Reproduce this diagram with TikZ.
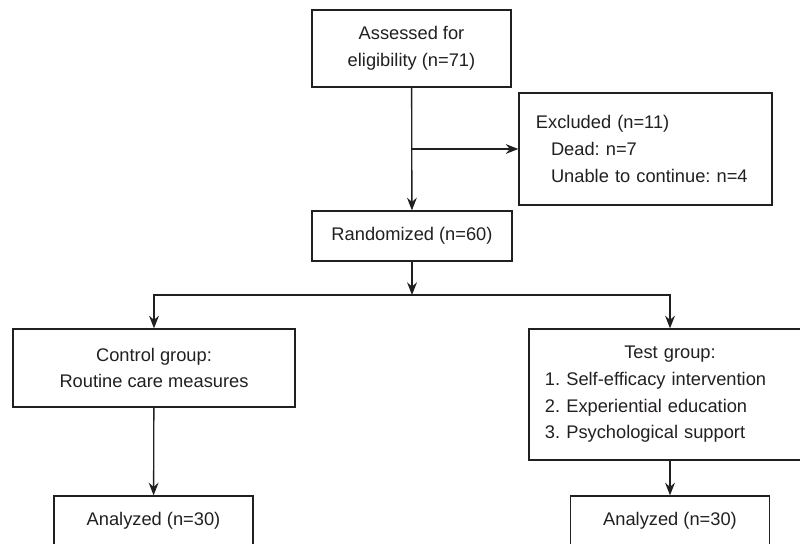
\documentclass[tikz,border=0pt]{standalone}
\usepackage{fontspec}
\setmainfont{Liberation Sans}
\usetikzlibrary{arrows.meta}
\definecolor{ink}{HTML}{231F20}

\begin{document}
\frenchspacing
\begin{tikzpicture}[x=0.025cm, y=-0.025cm]
            \tikzset{box/.style = {shape=rectangle, draw=ink, line width=0.9pt, text=ink, align=center, inner sep=0pt, font=\fontsize{13}{19}\selectfont}}
            \tikzset{flow/.style = {draw=ink, line width=0.95pt, -{Stealth[length=9pt, width=7pt, inset=3pt]}}}
            \useasboundingbox (0,0) rectangle (800,544);
            \clip (0,0) rectangle (800,544);

            % boxes
            \node[box, minimum width=4.975cm, minimum height=1.925cm] (assess) at (411.5,48.5) {Assessed for\\eligibility (n=71)};
            \node[box, align=left, text width=5.475cm, inner xsep=0.425cm, minimum height=2.8cm] (excl) at (645.5,149) {Excluded (n=11)\\\hspace*{10.7pt}Dead: n=7\\\hspace*{10.7pt}Unable to continue: n=4};
            \node[box, minimum width=5cm, minimum height=1.25cm] (rand) at (412,236) {Randomized (n=60)};
            \node[box, minimum width=7.05cm, minimum height=1.95cm] (ctrl) at (154,368) {Control group:\\Routine care measures};
            \node[box, align=left, text width=6.25cm, inner xsep=0.4cm, minimum height=3.275cm] (test) at (670,394.5) {\makebox[\hsize]{Test group:}\\1. Self-efficacy intervention\\2. Experiential education\\3. Psychological support};
            \node[box, minimum width=4.975cm, minimum height=1.25cm] (anlC) at (153.5,521) {Analyzed (n=30)};
            \node[box, minimum width=4.975cm, minimum height=1.25cm] (anlT) at (670,521) {Analyzed (n=30)};
            \coordinate (split) at (412,295);

            % arrows
            \draw[flow] (assess) -- (rand);
            \draw[flow] (assess.south |- excl.west) -- (excl.west);
            \draw[flow] (rand) -- (split);
            \draw[flow] (split) -| (ctrl.north);
            \draw[flow] (split) -| (test.north);
            \draw[flow] (ctrl) -- (anlC);
            \draw[flow] (test) -- (anlT);
\end{tikzpicture}
\end{document}
